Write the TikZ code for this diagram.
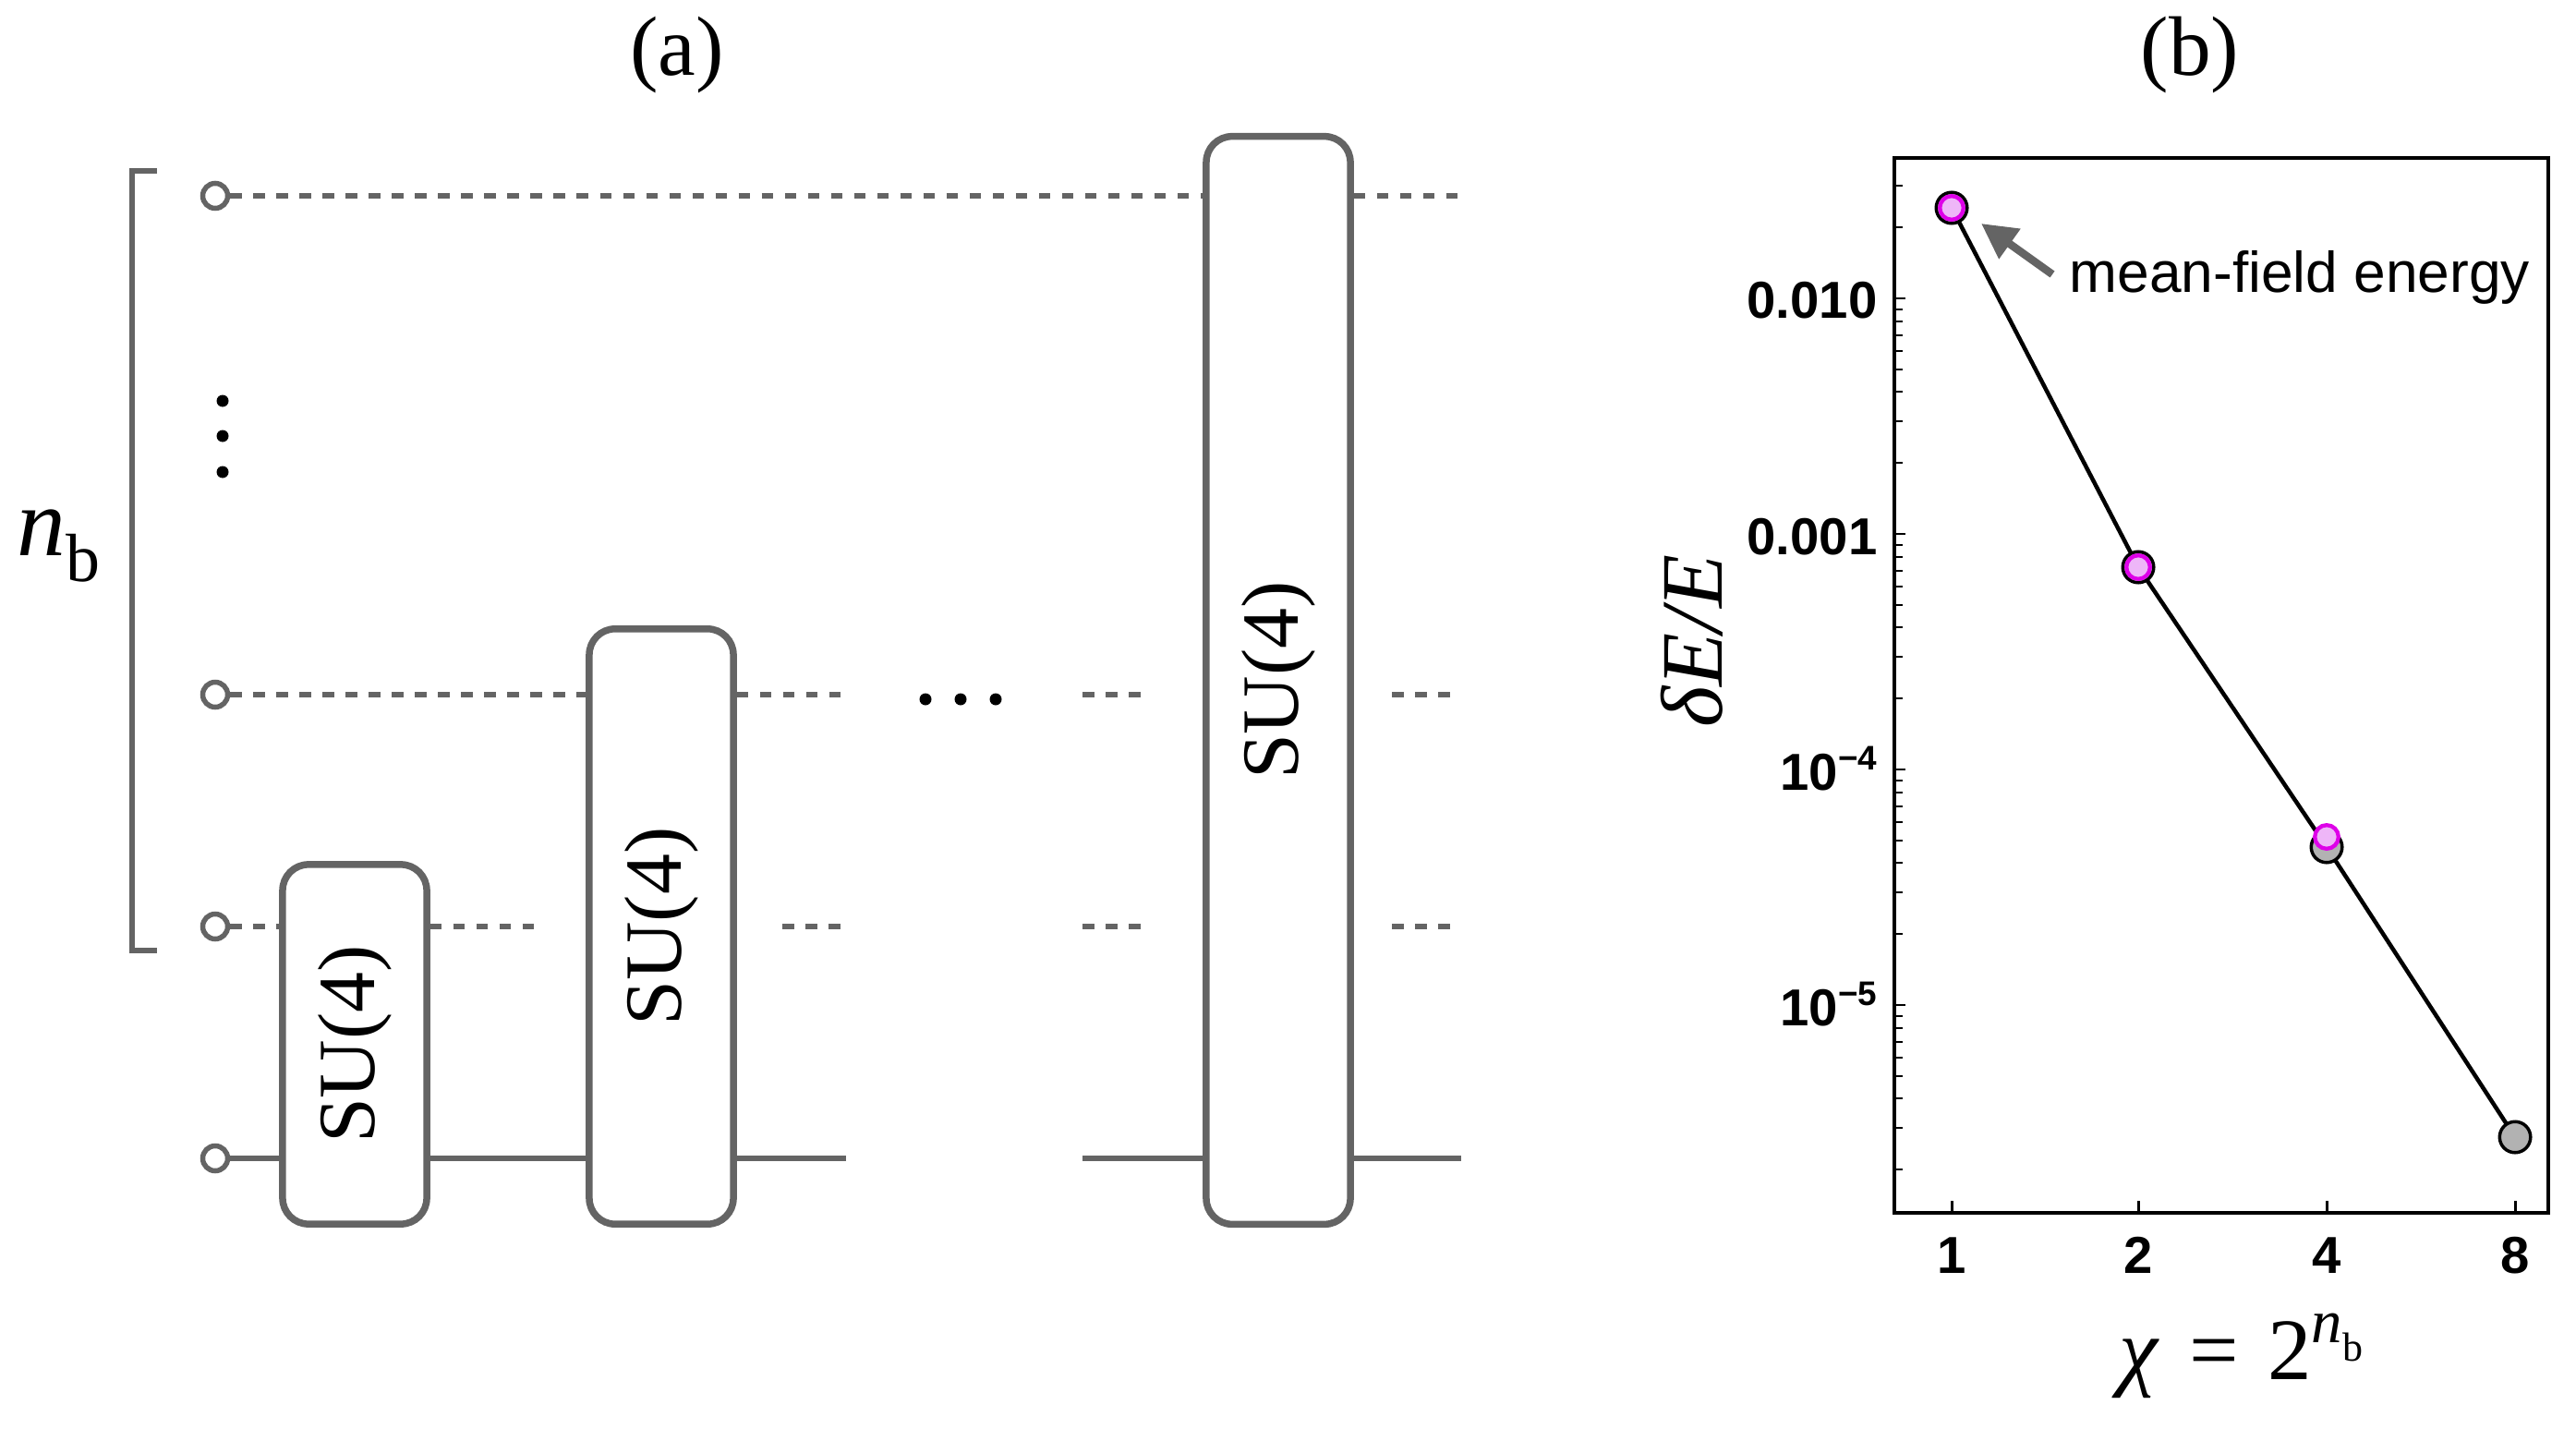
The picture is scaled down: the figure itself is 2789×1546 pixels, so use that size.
\documentclass[tikz,border=0pt]{standalone}
\usepackage{fontspec}
\setmainfont{Liberation Serif}
\newfontfamily\plotsans{Liberation Sans}
\newfontfamily\serifrm{Liberation Serif}
\usetikzlibrary{arrows.meta}
\definecolor{wiregray}{RGB}{100,100,100}
\definecolor{mag}{RGB}{222,0,232}
\definecolor{pinkfill}{RGB}{238,182,248}
\definecolor{markgray}{RGB}{178,178,178}
\newcommand\fsz[1]{\fontsize{#1}{#1}\selectfont}
\begin{document}
\begin{tikzpicture}[x=0.01cm,y=-0.01cm,
  wire/.style={draw=wiregray,line width=0.055cm},
  dwire/.style={draw=wiregray,line width=0.06cm,dash pattern=on 0.125cm off 0.125cm},
  qubit/.style={circle,draw=wiregray,fill=white,line width=0.055cm,minimum size=0.27cm,inner sep=0},
  gate/.style={rectangle,rounded corners=0.28cm,draw=wiregray,fill=white,line width=0.075cm,minimum width=1.56cm,inner sep=0},
  gatelabel/.style={rotate=90,inner sep=0,font=\serifrm\fsz{25}},
  gmark/.style={circle,draw=black,fill=markgray,line width=0.035cm,minimum size=0.335cm,inner sep=0},
  mmark/.style={circle,draw=mag,fill=pinkfill,line width=0.043cm,minimum size=0.256cm,inner sep=0},
  ylab/.style={anchor=base east,inner sep=0,font=\plotsans\bfseries\fsz{16}},
  xlab/.style={anchor=base,inner sep=0,font=\plotsans\bfseries\fsz{16}},
  tickline/.style={draw=black,line width=0.02cm},
  dot/.style={fill=black}]
\useasboundingbox (0,0) rectangle (2789,1546);

% ---------------- panel (a) ----------------
\node[anchor=base,inner sep=0,font=\serifrm\fsz{26}] (la) at (733,82) {(a)};

% bracket and n_b
\draw[wiregray,line width=0.06cm] (170,185) -- (143,185) -- (143,1029) -- (170,1029);
\node[anchor=base west,inner sep=0,font=\serifrm\fsz{30}] (nb) at (18,601) {\textit{n}\raisebox{-8pt}{\fsz{21}b}};

% qubit circles
\node[qubit] (c1) at (233,212) {};
\node[qubit] (c2) at (233,752) {};
\node[qubit] (c3) at (233,1003) {};
\node[qubit] (c4) at (233,1254) {};

% gates
\node[gate,minimum height=3.89cm] (g1) at (384,1130.5) {};
\node[gate,minimum height=6.44cm] (g2) at (716,1003) {};
\node[gate,minimum height=11.77cm] (g3) at (1384,736.5) {};
\node[gatelabel] (s1) at (g1.center) {SU(4)};
\node[gatelabel] (s2) at (g2.center) {SU(4)};
\node[gatelabel] (s3) at (g3.center) {SU(4)};

% free wire ends
\coordinate (e1) at (1582,212);
\coordinate (m1) at (916,752);
\coordinate (m2) at (1172,752);
\coordinate (m3) at (1236,752);
\coordinate (m4) at (1507,752);
\coordinate (m5) at (1582,752);
\coordinate (b1) at (583,1003);
\coordinate (b2) at (847,1003);
\coordinate (b3) at (916,1003);
\coordinate (b4) at (1172,1003);
\coordinate (b5) at (1236,1003);
\coordinate (b6) at (1507,1003);
\coordinate (b7) at (1582,1003);
\coordinate (s1e) at (916,1254);
\coordinate (s2e) at (1172,1254);
\coordinate (s3e) at (1582,1254);

% top wire
\draw[dwire] (c1.east) -- (g3.west |- c1);
\draw[dwire] (g3.east |- c1) -- (e1);
% middle wire
\draw[dwire] (c2.east) -- (g2.west |- c2);
\draw[dwire] (g2.east |- c2) -- (m1);
\draw[dwire] (m2) -- (m3);
\draw[dwire] (m4) -- (m5);
% lower dashed wire
\draw[dwire] (c3.east) -- (g1.west |- c3);
\draw[dwire] (g1.east |- c3) -- (b1);
\draw[dwire] (b2) -- (b3);
\draw[dwire] (b4) -- (b5);
\draw[dwire] (b6) -- (b7);
% solid wire
\draw[wire] (c4.east) -- (g1.west |- c4);
\draw[wire] (g1.east |- c4) -- (g2.west |- c4);
\draw[wire] (g2.east |- c4) -- (s1e);
\draw[wire] (s2e) -- (g3.west |- c4);
\draw[wire] (g3.east |- c4) -- (s3e);

% dots
\fill[dot] (241,434) circle (6.5);
\fill[dot] (241,472) circle (6.5);
\fill[dot] (241,511) circle (6.5);
\fill[dot] (1002,757) circle (6.5);
\fill[dot] (1040,757) circle (6.5);
\fill[dot] (1078,757) circle (6.5);

% ---------------- panel (b) ----------------
\node[anchor=base,inner sep=0,font=\serifrm\fsz{26}] (lb) at (2371,82) {(b)};

% ticks
\foreach \b in {323,578,833,1088,1343}{
  \foreach \m in {2,...,9}{
    \pgfmathsetmacro\yy{\b-ln(\m)/ln(10)*255}
    \pgfmathparse{(\yy>175 && \yy<1310) ? 1 : 0}
    \ifnum\pgfmathresult=1
      \draw[tickline] (2051,\yy) -- ++(9,0);
    \fi
  }
}
\foreach \yy in {323,578,833,1088}{
  \draw[tickline] (2051,\yy) -- ++(12,0);
}
\foreach \xx in {2113,2315,2519,2723}{
  \draw[black,line width=0.03cm] (\xx,1313) -- ++(0,-13);
}

% frame
\draw[black,line width=0.04cm] (2051,171) rectangle (2759,1313);

% tick labels
\node[ylab] (y1) at (2033,345) {0.010};
\node[ylab] (y2) at (2033,600) {0.001};
\node[ylab] (y3) at (2033,855) {10\raisebox{6.2pt}{\fsz{10.5}−4}};
\node[ylab] (y4) at (2033,1110) {10\raisebox{6.2pt}{\fsz{10.5}−5}};
\node[xlab] (x1) at (2113,1378) {1};
\node[xlab] (x2) at (2315,1378) {2};
\node[xlab] (x4) at (2519,1378) {4};
\node[xlab] (x8) at (2723,1378) {8};

% axis labels
\node[rotate=90,inner sep=0,font=\serifrm\fsz{27}\itshape] (ylabel) at (1832,694) {δE/E};
\node[anchor=base west,inner sep=0,font=\serifrm\fsz{27}] (xlabel) at (2294,1493)
  {\textit{χ}\hspace{9pt}=\hspace{9pt}2\raisebox{11.3pt}{\fsz{19}\textit{n}\raisebox{-5.7pt}{\fsz{12.5}b}}};

% data
\coordinate (d1) at (2113,225);
\coordinate (d2) at (2315,614);
\coordinate (d3) at (2519,917);
\coordinate (d4) at (2723,1231);
\draw[black,line width=0.045cm] (d1) -- (d2) -- (d3) -- (d4);
\node[gmark] (pg1) at (d1) {};
\node[gmark] (pg2) at (d2) {};
\node[gmark] (pg3) at (d3) {};
\node[gmark] (pg4) at (d4) {};
\node[mmark] (pm1) at (2113,225) {};
\node[mmark] (pm2) at (2315,614) {};
\node[mmark] (pm3) at (2519,906) {};

% annotation
\node[anchor=base west,inner sep=0,font=\plotsans\fsz{17.7}] (mf) at (2240,317) {mean-field energy};
\coordinate (arrtail) at (2222,297);
\coordinate (arrtip) at (2145,242);
\draw[wiregray,line width=0.085cm,-{Triangle[length=0.38cm,width=0.38cm]}] (arrtail) -- (arrtip);
\end{tikzpicture}
\end{document}
